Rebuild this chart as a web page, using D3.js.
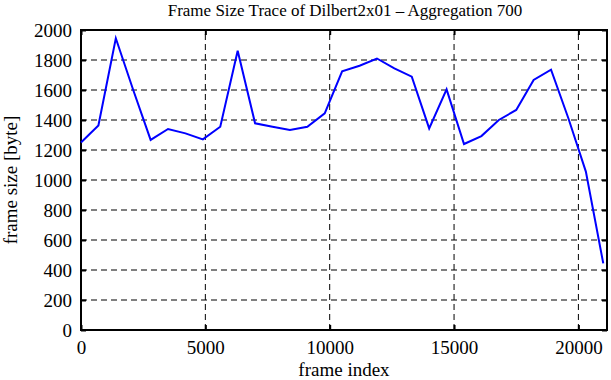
<!DOCTYPE html>
<html>
<head>
<meta charset="utf-8">
<script src="https://cdn.jsdelivr.net/npm/d3@7"></script>
<style>
  body { margin: 0; background: #fff; }
  svg text { font-family: 'Liberation Serif', 'DejaVu Serif', serif; fill: #000; }
</style>
</head>
<body>
<svg id="chart" width="611" height="380"></svg>
<script>
const title = 'Frame Size Trace of Dilbert2x01 \u2013 Aggregation 700'
const xLabel = 'frame index'
const yLabel = 'frame size [byte]'

const frameIndex = [0, 700, 1400, 2100, 2800, 3500, 4200, 4900, 5600, 6300,
  7000, 7700, 8400, 9100, 9800, 10500, 11200, 11900, 12600, 13300,
  14000, 14700, 15400, 16100, 16800, 17500, 18200, 18900, 19600, 20300, 21000]
const frameSize = [1250, 1364, 1945, 1600, 1267, 1340, 1311, 1271, 1355, 1862,
  1378, 1355, 1333, 1355, 1444, 1725, 1762, 1810, 1744, 1689,
  1344, 1604, 1240, 1293, 1400, 1467, 1667, 1735, 1410, 1056, 444]

const xTicks = [0, 5000, 10000, 15000, 20000]
const yTicks = [0, 200, 400, 600, 800, 1000, 1200, 1400, 1600, 1800, 2000]
const xDomain = [0, 21150]
const yDomain = [0, 2000]

const margin = { top: 30, right: 4, bottom: 50, left: 81 }
const width = 611
const height = 380
const svg = d3.select('svg#chart')

const x = d3.scaleLinear().domain(xDomain).range([margin.left, width - margin.right])
const y = d3.scaleLinear().domain(yDomain).range([height - margin.bottom, margin.top])

const plot = svg.append('g')

// dashed grid
plot.selectAll('line.gx').data(xTicks.filter(d => d > 0))
  .enter().append('line')
  .attr('class', 'gx')
  .attr('x1', d => x(d)).attr('x2', d => x(d))
  .attr('y1', y(0)).attr('y2', y(2000))
  .attr('stroke', '#000').attr('stroke-width', 1)
  .attr('stroke-dasharray', '6,4')

plot.selectAll('line.gy').data(yTicks.filter(d => d > 0 && d < 2000))
  .enter().append('line')
  .attr('class', 'gy')
  .attr('x1', x(xDomain[0])).attr('x2', x(xDomain[1]))
  .attr('y1', d => y(d)).attr('y2', d => y(d))
  .attr('stroke', '#000').attr('stroke-width', 1)
  .attr('stroke-dasharray', '6,4')

// axes with inward ticks, mirrored
const tickLen = 5
const fmt = d3.format('d')
const xAxisB = d3.axisBottom(x).tickValues(xTicks).tickFormat(fmt).tickSizeInner(-tickLen).tickSizeOuter(0).tickPadding(11)
const xAxisT = d3.axisTop(x).tickValues(xTicks).tickSizeInner(-tickLen).tickSizeOuter(0).tickFormat('')
const yAxisL = d3.axisLeft(y).tickValues(yTicks).tickFormat(fmt).tickSizeInner(-tickLen).tickSizeOuter(0).tickPadding(9)
const yAxisR = d3.axisRight(y).tickValues(yTicks).tickSizeInner(-tickLen).tickSizeOuter(0).tickFormat('')

function styleAxis (g) {
  g.attr('font-family', null)
  g.select('.domain').remove()
  g.selectAll('.tick line').attr('stroke', '#000').attr('stroke-width', 2)
  g.selectAll('.tick text').style('font-size', '19px').attr('fill', '#000')
}

svg.append('g').attr('transform', `translate(0,${y(0)})`).call(xAxisB).call(styleAxis)
svg.append('g').attr('transform', `translate(0,${y(2000)})`).call(xAxisT).call(styleAxis)
svg.append('g').attr('transform', `translate(${x(xDomain[0])},0)`).call(yAxisL).call(styleAxis)
svg.append('g').attr('transform', `translate(${x(xDomain[1])},0)`).call(yAxisR).call(styleAxis)

// frame
svg.append('rect')
  .attr('x', x(xDomain[0])).attr('y', y(2000))
  .attr('width', x(xDomain[1]) - x(xDomain[0]))
  .attr('height', y(0) - y(2000))
  .attr('fill', 'none').attr('stroke', '#000').attr('stroke-width', 2)

// data line
const points = frameIndex.map((d, i) => ({ x: d, y: frameSize[i] }))
svg.append('path')
  .datum(points)
  .attr('fill', 'none')
  .attr('stroke', '#0000ff')
  .attr('stroke-width', 2)
  .attr('d', d3.line().x(d => x(d.x)).y(d => y(d.y)))

// labels
svg.append('text')
  .attr('x', 345).attr('y', 16)
  .attr('text-anchor', 'middle')
  .style('font-size', '17px')
  .text(title)

svg.append('text')
  .attr('x', (x(xDomain[0]) + x(xDomain[1])) / 2).attr('y', 376)
  .attr('text-anchor', 'middle')
  .style('font-size', '19px')
  .text(xLabel)

svg.append('text')
  .attr('transform', `translate(17,${(y(0) + y(2000)) / 2}) rotate(-90)`)
  .attr('text-anchor', 'middle')
  .style('font-size', '19px')
  .text(yLabel)
</script>
</body>
</html>
